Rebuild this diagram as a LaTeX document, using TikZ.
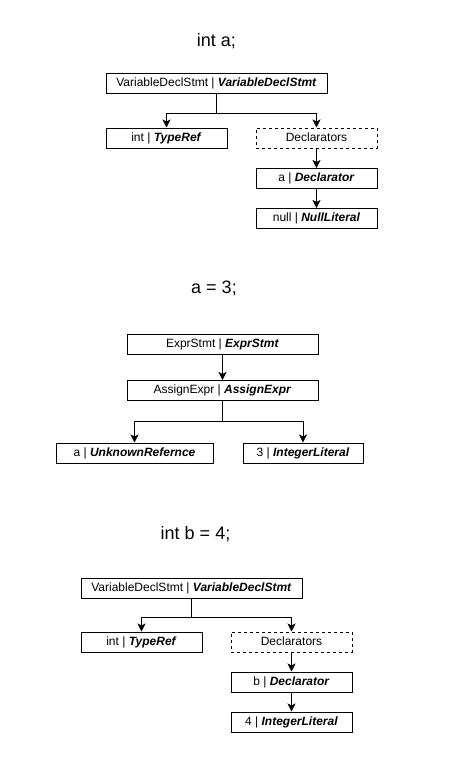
\documentclass[tikz,border=0pt]{standalone}
\usepackage{fontspec}
\setmainfont{Liberation Sans}
\usetikzlibrary{arrows.meta}
\newcommand\astkind[1]{\textbf{\textit{#1}}}

\begin{document}
\begin{tikzpicture}[x=0.75pt,y=0.75pt,yscale=-1,xscale=1,
  astbox/.style={draw,line width=0.75pt,inner sep=0pt,minimum height=15pt,text height=6.5pt,text depth=1.9pt,font=\fontsize{9pt}{10pt}\selectfont},
  listbox/.style={astbox,dash pattern=on 2.25pt off 2.25pt},
  codetitle/.style={anchor=base,inner sep=0pt,font=\fontsize{13.5pt}{16pt}\selectfont},
  edge/.style={line width=0.75pt,-{Stealth[length=6pt,width=6pt,inset=1.5pt]}}]
\useasboundingbox (0,0) rectangle (457,771);

%% int a;
% Text Node
\node[codetitle] (title1) at (216.5,46) {int a;};
%Shape: Rectangle
\node[astbox,minimum width=165.75pt] (vds1) at (216.5,83) {VariableDeclStmt | \astkind{VariableDeclStmt}};
\node[astbox,minimum width=90.75pt] (tr1) at (166.5,138) {int | \astkind{TypeRef}};
\node[listbox,minimum width=90.75pt] (dcls1) at (316.5,138) {Declarators};
\node[astbox,minimum width=90.75pt] (dcl1) at (316.5,178.5) {a | \astkind{Declarator}};
\node[astbox,minimum width=90.75pt] (nul1) at (316.5,218.5) {null | \astkind{NullLiteral}};
%Connectors
\coordinate (j1) at (216.5,113);
\draw[edge] (vds1.south) -- (j1) -| (tr1.north);
\draw[edge] (j1) -| (dcls1.north);
\draw[edge] (dcls1) -- (dcl1);
\draw[edge] (dcl1) -- (nul1);

%% a = 3;
% Text Node
\node[codetitle] (title2) at (214,293) {a = 3;};
%Shape: Rectangle
\node[astbox,minimum width=143.25pt] (es2) at (222.5,344.5) {ExprStmt | \astkind{ExprStmt}};
\node[astbox,minimum width=143.25pt] (ae2) at (222.5,390.5) {AssignExpr | \astkind{AssignExpr}};
\node[astbox,minimum width=117.75pt] (ur2) at (134.5,453) {a | \astkind{UnknownRefernce}};
\node[astbox,minimum width=90pt] (il2) at (303,453) {3 | \astkind{IntegerLiteral}};
%Connectors
\coordinate (j2) at (222.5,421);
\draw[edge] (es2) -- (ae2);
\draw[edge] (ae2.south) -- (j2) -| (ur2.north);
\draw[edge] (j2) -| (il2.north);

%% int b = 4;
% Text Node
\node[codetitle] (title3) at (195.5,539) {int b = 4;};
%Shape: Rectangle
\node[astbox,minimum width=165.75pt] (vds3) at (191.5,588) {VariableDeclStmt | \astkind{VariableDeclStmt}};
\node[astbox,minimum width=90.75pt] (tr3) at (141.5,642) {int | \astkind{TypeRef}};
\node[listbox,minimum width=90.75pt] (dcls3) at (291.5,642) {Declarators};
\node[astbox,minimum width=90.75pt] (dcl3) at (291.5,682) {b | \astkind{Declarator}};
\node[astbox,minimum width=90.75pt] (il3) at (291.5,722) {4 | \astkind{IntegerLiteral}};
%Connectors
\coordinate (j3) at (191.5,617);
\draw[edge] (vds3.south) -- (j3) -| (tr3.north);
\draw[edge] (j3) -| (dcls3.north);
\draw[edge] (dcls3) -- (dcl3);
\draw[edge] (dcl3) -- (il3);

\end{tikzpicture}
\end{document}
